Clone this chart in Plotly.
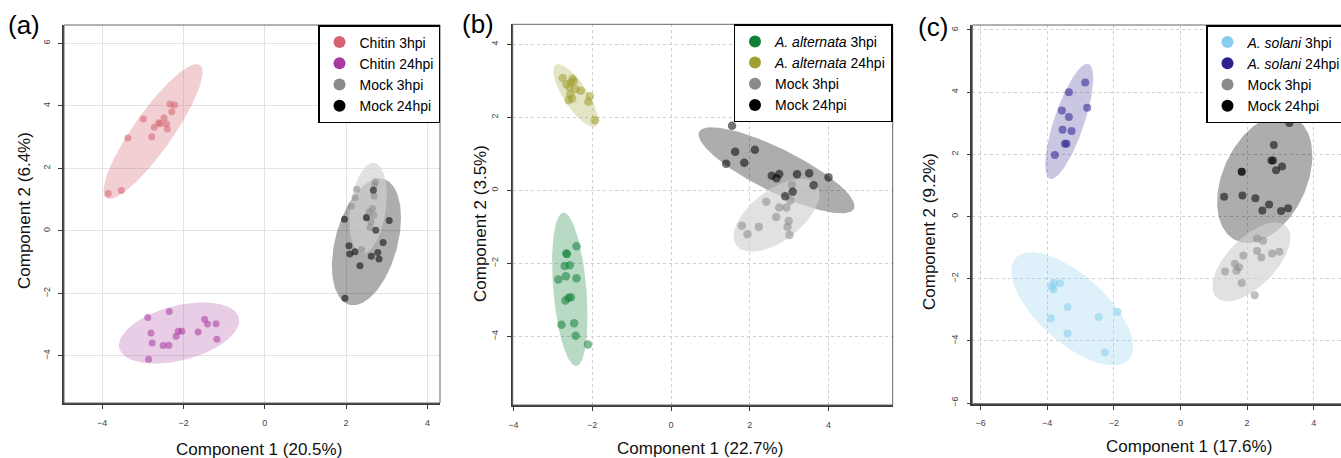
import numpy as np
import plotly.graph_objects as go

W, H = 1341, 458
FONT = "Liberation Sans, Arial, Helvetica, sans-serif"

# ---------------- Panel (a): Chitin ----------------
a_chitin3_x = [-3.85, -3.53, -3.37, -2.99, -2.78, -2.72, -2.61, -2.57, -2.48, -2.42, -2.40, -2.33, -2.22, -2.29]
a_chitin3_y = [1.20, 1.29, 2.97, 3.58, 3.01, 3.32, 3.46, 3.43, 3.61, 3.43, 3.26, 4.06, 4.03, 3.81]
a_chitin24_x = [-2.88, -2.80, -2.77, -2.86, -2.50, -2.36, -2.35, -2.18, -2.13, -2.04, -1.64, -1.48, -1.41, -1.20, -1.18]
a_chitin24_y = [-2.77, -3.27, -3.59, -4.11, -3.67, -3.66, -2.58, -3.37, -3.21, -3.21, -3.24, -2.83, -2.98, -2.97, -3.47]
a_mock3_x = [2.72, 2.70, 2.26, 2.69, 2.22, 2.13, 2.65, 2.57, 2.68, 2.61, 2.59, 2.38, 2.50]
a_mock3_y = [1.57, 1.46, 1.33, 1.12, 1.06, 0.79, 0.72, 0.61, 0.50, 0.29, 0.11, -0.60, 0.45]
a_mock24_x = [2.67, 1.96, 2.50, 3.06, 2.73, 2.91, 2.07, 2.09, 2.22, 2.62, 2.78, 2.81, 2.34, 1.97]
a_mock24_y = [1.30, 0.37, 0.42, 0.33, 0.02, -0.37, -0.48, -0.74, -0.67, -0.81, -0.69, -0.90, -1.12, -2.16]

# ---------------- Panel (b): A. alternata ----------------
b_alt3_x = [-2.40, -2.66, -2.64, -2.70, -2.57, -2.86, -2.67, -2.40, -2.68, -2.60, -2.54, -2.78, -2.46, -2.42, -2.11]
b_alt3_y = [-1.53, -1.73, -1.74, -2.07, -2.05, -2.44, -2.35, -2.41, -3.02, -2.94, -2.93, -3.68, -3.64, -3.98, -4.22]
b_alt24_x = [-2.75, -2.66, -2.54, -2.50, -2.47, -2.58, -2.43, -2.29, -2.56, -2.51, -2.60, -2.06, -2.10, -1.93]
b_alt24_y = [3.08, 2.91, 2.95, 3.06, 2.99, 2.82, 2.77, 2.73, 2.63, 2.52, 2.47, 2.58, 2.43, 1.92]
b_mock3_x = [3.07, 3.03, 2.42, 2.75, 2.93, 2.67, 2.99, 2.96, 1.80, 2.23, 1.94, 3.01]
b_mock3_y = [0.15, -0.28, -0.31, -0.47, -0.47, -0.73, -0.84, -1.00, -0.97, -1.00, -1.20, -1.22]
b_mock24_x = [1.55, 1.63, 2.13, 1.40, 1.86, 2.56, 2.75, 2.68, 3.20, 3.51, 4.00, 3.62, 3.09, 2.90]
b_mock24_y = [1.77, 1.06, 1.11, 0.73, 0.76, 0.40, 0.45, 0.33, 0.44, 0.47, 0.36, 0.14, -0.04, -0.16]

# ---------------- Panel (c): A. solani ----------------
c_sol3_x = [-3.80, -3.62, -3.87, -3.81, -3.39, -3.89, -3.39, -2.45, -1.89, -2.27]
c_sol3_y = [-2.14, -2.15, -2.25, -2.35, -2.91, -3.28, -3.76, -3.23, -3.06, -4.37]
c_sol24_x = [-2.86, -3.35, -2.80, -3.56, -3.35, -3.54, -3.27, -3.47, -3.42, -3.77]
c_sol24_y = [4.31, 4.00, 3.50, 3.41, 3.20, 2.79, 2.75, 2.34, 2.34, 1.98]
c_mock3_x = [2.30, 2.48, 1.89, 2.30, 2.43, 2.75, 2.97, 1.63, 1.76, 1.68, 1.34, 1.84, 2.23]
c_mock3_y = [-0.71, -0.78, -1.25, -1.11, -1.32, -1.19, -1.13, -1.52, -1.63, -1.74, -1.77, -2.14, -2.53]
c_mock24_x = [3.27, 2.80, 2.73, 2.78, 3.05, 2.87, 1.84, 1.84, 1.31, 1.86, 2.25, 2.66, 2.46, 3.02, 3.23]
c_mock24_y = [3.01, 2.30, 1.80, 1.80, 1.61, 1.49, 1.44, 1.44, 0.64, 0.68, 0.59, 0.39, 0.19, 0.18, 0.27]

# Ellipse summaries: centre x, centre y, half-width x, half-height y, correlation
a_ell = {"chitin3": (-2.75, 3.18, 1.22, 2.16, 0.88), "chitin24": (-2.11, -3.27, 1.48, 0.98, 0.40),
         "mock3": (2.54, 0.73, 0.46, 1.45, 0.28), "mock24": (2.50, -0.35, 0.85, 2.03, 0.38)}
b_ell = {"alt3": (-2.57, -2.71, 0.45, 2.10, -0.35), "alt24": (-2.42, 2.60, 0.57, 0.86, -0.78),
         "mock3": (2.68, -0.68, 1.09, 1.00, 0.58), "mock24": (2.68, 0.55, 1.98, 1.18, -0.83)}
c_ell = {"sol3": (-3.25, -2.97, 1.83, 1.82, -0.67), "sol24": (-3.34, 3.06, 0.72, 1.85, 0.75),
         "mock3": (2.13, -1.46, 1.17, 1.27, 0.62), "mock24": (2.53, 1.21, 1.43, 2.06, 0.36)}

COL = {
    "chitin3": "#d6646e", "chitin24": "#a8399f",
    "alt3": "#138038", "alt24": "#a0a030",
    "sol3": "#87cdee", "sol24": "#2c1f8e",
    "mock3": "#8a8a8a", "mock24": "#000000",
}
FILL = {
    "chitin3": "rgba(214,100,110,0.31)", "chitin24": "rgba(168,57,159,0.25)",
    "alt3": "rgba(19,128,56,0.30)", "alt24": "rgba(160,160,48,0.28)",
    "sol3": "rgba(135,205,238,0.28)", "sol24": "rgba(44,31,142,0.25)",
    "mock3": "rgba(210,210,210,0.66)", "mock24": "rgba(0,0,0,0.32)",
}

def ellipse(p, n=160):
    cx, cy, sx, sy, r = p
    t = np.linspace(0, 2 * np.pi, n)
    return cx + sx * np.cos(t), cy + sy * (r * np.cos(t) + np.sqrt(1 - r * r) * np.sin(t))

fig = go.Figure()

panels = [
    ("x", "y", "legend", a_ell, 7,
     [("chitin3", "Chitin 3hpi", a_chitin3_x, a_chitin3_y), ("chitin24", "Chitin 24hpi", a_chitin24_x, a_chitin24_y),
      ("mock3", "Mock 3hpi", a_mock3_x, a_mock3_y), ("mock24", "Mock 24hpi", a_mock24_x, a_mock24_y)]),
    ("x2", "y2", "legend2", b_ell, 8.5,
     [("alt3", "<i>A. alternata</i> 3hpi", b_alt3_x, b_alt3_y), ("alt24", "<i>A. alternata</i> 24hpi", b_alt24_x, b_alt24_y),
      ("mock3", "Mock 3hpi", b_mock3_x, b_mock3_y), ("mock24", "Mock 24hpi", b_mock24_x, b_mock24_y)]),
    ("x3", "y3", "legend3", c_ell, 8,
     [("sol3", "<i>A. solani</i> 3hpi", c_sol3_x, c_sol3_y), ("sol24", "<i>A. solani</i> 24hpi", c_sol24_x, c_sol24_y),
      ("mock3", "Mock 3hpi", c_mock3_x, c_mock3_y), ("mock24", "Mock 24hpi", c_mock24_x, c_mock24_y)]),
]

for xa, ya, leg, ells, msize, groups in panels:
    # ellipses: mock 24 first, mock 3 over it, then treatments
    for key in ["mock24", "mock3", groups[0][0], groups[1][0]]:
        ex, ey = ellipse(ells[key])
        fig.add_trace(go.Scatter(x=ex, y=ey, mode="lines", fill="toself", fillcolor=FILL[key],
                                 line=dict(width=0), hoverinfo="skip", showlegend=False,
                                 xaxis=xa, yaxis=ya))
    for key, name, xs, ys in groups:
        fig.add_trace(go.Scatter(x=xs, y=ys, mode="markers", name=name, showlegend=False,
                                 marker=dict(color=COL[key], size=msize, opacity=0.55, line=dict(width=0)),
                                 xaxis=xa, yaxis=ya))
    for key, name, xs, ys in groups:
        fig.add_trace(go.Scatter(x=[None], y=[None], mode="markers", name=name, legend=leg,
                                 marker=dict(color=COL[key], size=12), xaxis=xa, yaxis=ya))

def xaxis(domain, rng, anchor, dash, gcol):
    return dict(domain=domain, range=rng, anchor=anchor, dtick=2, tick0=0, showgrid=True,
                gridcolor=gcol, griddash=dash, gridwidth=1.2, zeroline=False, showline=True,
                linecolor="#3a3a3a", linewidth=1.6, ticks="outside", ticklen=4, tickcolor="#3a3a3a",
                tickfont=dict(size=9, color="#444", family=FONT), ticklabelstandoff=6,
                fixedrange=True, automargin=False)

def yaxis(domain, rng, anchor, dash, gcol):
    d = xaxis(domain, rng, anchor, dash, gcol)
    d["tickangle"] = -90
    d["ticklabelstandoff"] = 5
    return d

pa = dict(x=[64 / W, 440 / W], y=[(H - 403) / H, (H - 25) / H])
pb = dict(x=[512.7 / W, 892.7 / W], y=[(H - 405) / H, (H - 24.3) / H])
pc = dict(x=[972.3 / W, 1.0], y=[(H - 403.7) / H, (H - 25) / H])

legend_common = dict(bgcolor="white", bordercolor="black", borderwidth=1.5,
                     font=dict(family=FONT, size=14, color="black"), tracegroupgap=0, yanchor="top")

shapes = []
for xr, yr, extra in [("x domain", "y domain", 1.0), ("x2 domain", "y2 domain", 1.0), ("x3 domain", "y3 domain", 1.02)]:
    shapes.append(dict(type="rect", xref=xr, yref=yr, x0=0, x1=extra, y0=0, y1=1,
                       line=dict(color="#666", width=1), layer="above"))

ann = []
for txt, x, y in [("(a)", 24, 25), ("(b)", 478, 24), ("(c)", 933, 27)]:
    ann.append(dict(text=txt, x=x / W, y=1 - y / H, xref="paper", yref="paper", showarrow=False,
                    xanchor="center", yanchor="middle", font=dict(family=FONT, size=26, color="black")))
for txt, x, y in [("Component 1 (20.5%)", 259, 449), ("Component 1 (22.7%)", 700, 448),
                  ("Component 1 (17.6%)", 1189, 446)]:
    ann.append(dict(text=txt, x=x / W, y=1 - y / H, xref="paper", yref="paper", showarrow=False,
                    xanchor="center", yanchor="middle", font=dict(family=FONT, size=17, color="#111")))
for txt, x, y in [("Component 2 (6.4%)", 24, 211), ("Component 2 (3.5%)", 480, 224),
                  ("Component 2 (9.2%)", 930, 232)]:
    ann.append(dict(text=txt, x=x / W, y=1 - y / H, xref="paper", yref="paper", showarrow=False,
                    textangle=-90, xanchor="center", yanchor="middle",
                    font=dict(family=FONT, size=17, color="#111")))

fig.update_layout(
    width=W, height=H, autosize=False, margin=dict(l=0, r=0, t=0, b=0, autoexpand=False),
    paper_bgcolor="white", plot_bgcolor="white",
    font=dict(family=FONT),
    xaxis=xaxis(pa["x"], [-4.94, 4.31], "y", "solid", "#e3e3e3"),
    yaxis=yaxis(pa["y"], [-5.51, 6.59], "x", "solid", "#e3e3e3"),
    xaxis2=xaxis(pb["x"], [-4.02, 5.63], "y2", "dot", "#cfcfcf"),
    yaxis2=yaxis(pb["y"], [-5.88, 4.55], "x2", "dot", "#cfcfcf"),
    xaxis3=xaxis(pc["x"], [-6.25, 4.82], "y3", "dot", "#cfcfcf"),
    yaxis3=yaxis(pc["y"], [-6.02, 6.16], "x3", "dot", "#cfcfcf"),
    legend=dict(x=440 / W, xanchor="right", y=1 - 25 / H, **legend_common),
    legend2=dict(x=892.5 / W, xanchor="right", y=1 - 24.3 / H, **legend_common),
    legend3=dict(x=1206 / W, xanchor="left", y=1 - 25 / H, **legend_common),
    shapes=shapes, annotations=ann, showlegend=True,
)

fig.write_html(
    "out.html",
    config={"responsive": False, "displayModeBar": False},
    post_script="document.body.style.margin='0';document.body.style.padding='0';"
                "document.body.style.overflow='hidden';",
)
